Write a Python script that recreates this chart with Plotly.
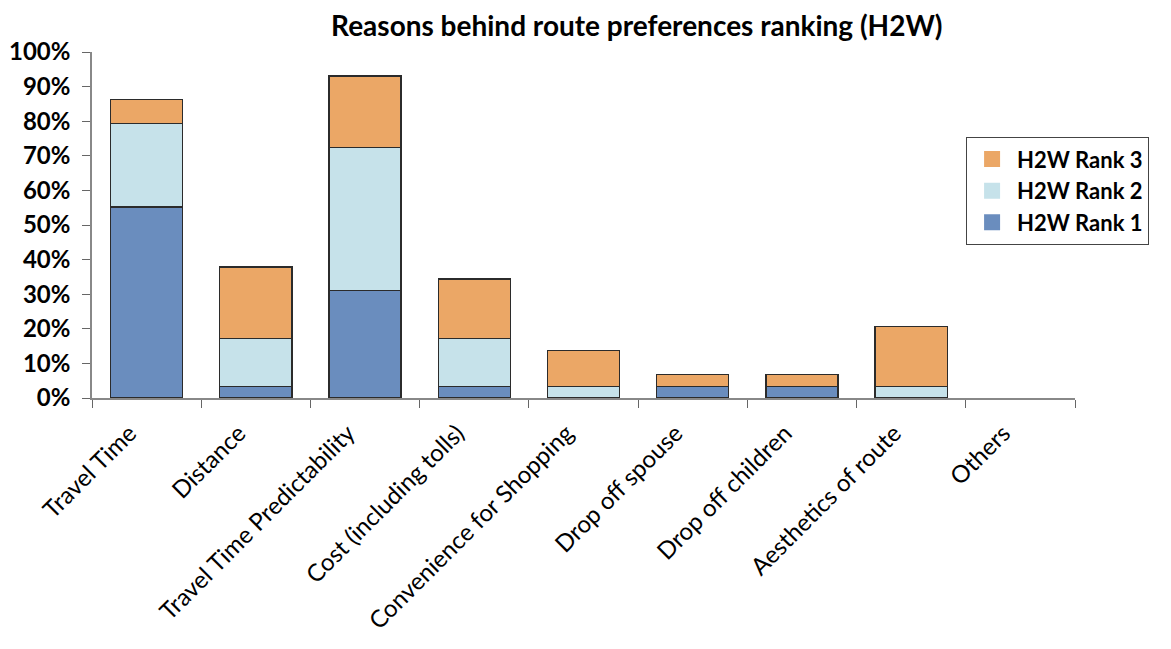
import plotly.graph_objects as go

categories = ["Travel Time", "Distance", "Travel Time Predictability", "Cost (including tolls)",
              "Convenience for Shopping", "Drop off spouse", "Drop off children",
              "Aesthetics of route", "Others"]
rank1 = [55.2, 3.4, 31.0, 3.4, 0.0, 3.4, 3.4, 0.0, 0.0]
rank2 = [24.1, 13.8, 41.4, 13.8, 3.4, 0.0, 0.0, 3.4, 0.0]
rank3 = [6.9, 20.7, 20.7, 17.2, 10.3, 3.4, 3.4, 17.2, 0.0]
series_names = ["H2W Rank 1", "H2W Rank 2", "H2W Rank 3"]
colors = ["#6a8dbe", "#c6e2ea", "#eba766"]
y_ticks = [0, 10, 20, 30, 40, 50, 60, 70, 80, 90, 100]

fig = go.Figure()
for name, vals, col in zip(series_names, [rank1, rank2, rank3], colors):
    widths = [1.3 if v > 0 else 0 for v in vals]
    fig.add_trace(go.Bar(x=categories, y=vals, name=name, showlegend=False,
                         marker=dict(color=col, line=dict(color="#2b2b2b", width=widths))))
# legend entries with larger square swatches
for name, col in zip(series_names, colors):
    fig.add_trace(go.Scatter(x=[None], y=[None], mode="markers", name="<b>" + name + "</b>",
                             marker=dict(symbol="square", size=16, color=col, line=dict(width=0))))

font_family = "Lato, 'Open Sans', sans-serif"
fig.update_layout(
    barmode="stack",
    bargap=0.34,
    width=1171, height=649,
    margin=dict(l=84, r=104, t=44, b=259, autoexpand=False),
    paper_bgcolor="white", plot_bgcolor="white",
    title=dict(text="<b>Reasons behind route preferences ranking (H2W)</b>",
               x=0.537, xanchor="center", xref="container",
               y=0.9715, yanchor="middle",
               font=dict(family=font_family, size=28, color="black")),
    legend=dict(x=0.889, y=0.754, xanchor="left", yanchor="top",
                traceorder="reversed",
                bordercolor="#444", borderwidth=1.2, bgcolor="white",
                font=dict(family=font_family, size=22, color="black"),
                itemwidth=40, tracegroupgap=0, itemsizing="trace"),
    showlegend=True,
    font=dict(family=font_family, color="black"),
)
fig.update_xaxes(
    type="category", tickangle=-45, tickson="boundaries", automargin=False,
    range=[-0.5, 8.5],
    ticks="outside", ticklen=8, tickcolor="#666",
    ticklabelshift=-17, ticklabelstandoff=10,
    showline=True, linecolor="#888", linewidth=1.5,
    showgrid=False,
    tickfont=dict(family=font_family, size=24, color="black"),
)
fig.update_yaxes(
    range=[0, 100], tickvals=y_ticks, ticktext=[f"<b>{v}%</b>" for v in y_ticks],
    automargin=False,
    ticks="outside", ticklen=8, tickcolor="#666",
    ticklabelstandoff=7,
    showline=True, linecolor="#888", linewidth=1.5,
    showgrid=False, zeroline=False,
    tickfont=dict(family=font_family, size=24, color="black"),
)
fig.write_html("out.html")
